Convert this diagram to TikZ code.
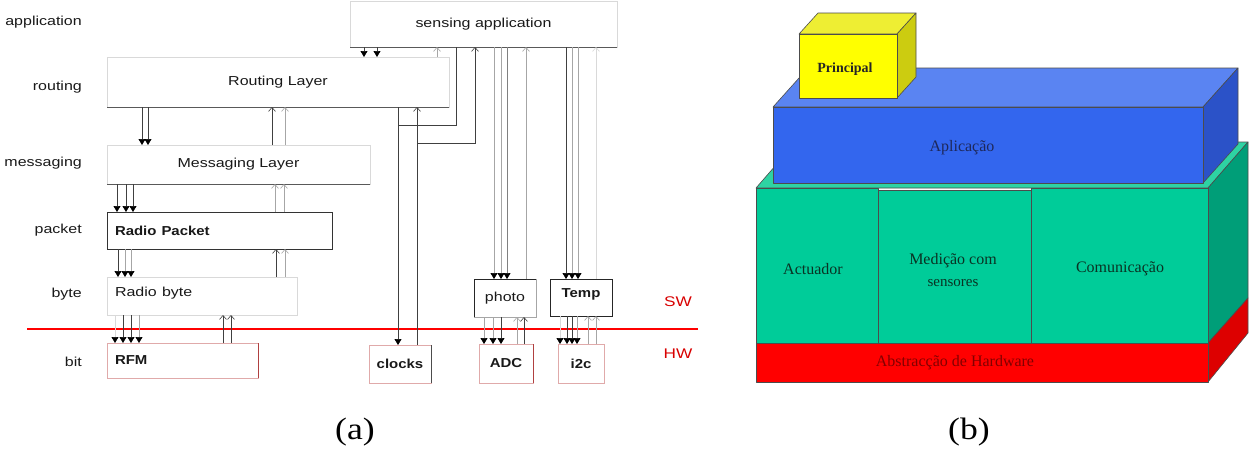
\documentclass[tikz,border=0pt]{standalone}
\usepackage{fontspec}
\setmainfont{Liberation Serif}
\setsansfont{Liberation Sans}
\usetikzlibrary{arrows.meta}
\newcommand{\sx}[1]{\scalebox{1.23}[1]{#1}}
\newcommand{\sxb}[1]{\scalebox{1.15}[1]{\bfseries #1}}
\definecolor{gfront}{HTML}{00CC99}
\definecolor{gtop}{HTML}{2ED3A3}
\definecolor{gside}{HTML}{009E78}
\definecolor{bfront}{HTML}{3366EE}
\definecolor{btop}{HTML}{5A84F2}
\definecolor{bside}{HTML}{2B52C8}
\definecolor{yfront}{HTML}{FFFF00}
\definecolor{ytop}{HTML}{EEEE33}
\definecolor{yside}{HTML}{CCCC10}
\definecolor{rfront}{HTML}{FF0000}
\definecolor{rside}{HTML}{DD0000}
\definecolor{hwpink}{HTML}{E0AAAA}
\definecolor{hwdark}{HTML}{B04040}
\begin{document}
\begin{tikzpicture}[x=1pt,y=-1pt,
  lab/.style={font=\sffamily\fontsize{13}{13}\selectfont, text=black!90, inner sep=0pt},
  lay/.style={draw=black!15, line width=0.6pt, inner sep=0pt, outer sep=0pt,
    font=\sffamily\fontsize{13}{13}\selectfont, text=black!90, anchor=north west},
  layl/.style={lay, align=left, inner xsep=8pt},
  hwbox/.style={lay, draw=hwpink},
  darkedge/.style={draw=black!65, line width=1pt},
  dn/.style={line width=0.7pt, draw=black!75, -{Triangle[width=7pt,length=6pt,color=black]}},
  dng/.style={dn, draw=black!35},
  upo/.style={line width=0.6pt, draw=black!35, -{Straight Barb[width=7pt,length=4pt]}},
  upd/.style={upo, draw=black!75},
  dk/.style={line width=0.8pt, draw=black!75},
  box3d/.style={draw=black!70, line width=0.6pt, line join=round},
  bt/.style={font=\fontsize{16}{18}\selectfont, inner sep=0pt, align=center},
  captxt/.style={font=\fontsize{31}{31}\selectfont, inner sep=0pt},
  hwsw/.style={font=\sffamily\fontsize{14}{14}\selectfont, text=red!85!black, inner sep=0pt}]
\useasboundingbox (0,0) rectangle (1255,448);
\fill[white] (0,0) rectangle (1255,448);

% ---------- (a) layer labels ----------
\node[lab,anchor=east] (Lapp) at (82,22) {\sx{application}};
\node[lab,anchor=east] (Lrou) at (82,87) {\sx{routing}};
\node[lab,anchor=east] (Lmsg) at (82,163) {\sx{messaging}};
\node[lab,anchor=east] (Lpkt) at (82,230) {\sx{packet}};
\node[lab,anchor=east] (Lbyt) at (82,294) {\sx{byte}};
\node[lab,anchor=east] (Lbit) at (82,362) {\sx{bit}};

% ---------- (a) boxes ----------
\node[lay, minimum width=267, minimum height=46] (sa) at (350,1) {\sx{sensing application}};
\node[lay, minimum width=342, minimum height=50] (rl) at (107,57) {\sx{Routing Layer}};
\node[lay, minimum width=263, minimum height=39] (ml) at (107,145) {\sx{Messaging Layer}};
\node[layl, draw=black!80, text width=209, minimum height=37] (rp) at (107,212) {\sxb{Radio Packet}};
\node[layl, text width=174, minimum height=38, text depth=8pt] (rb) at (107,277) {\sx{Radio byte}};
\node[layl, draw=hwpink, text width=135, minimum height=35] (rfm) at (107,343) {\sxb{RFM}};
\node[lay, draw=black!35, minimum width=62, minimum height=38] (ph) at (474,279) {\sx{photo}};
\node[lay, draw=black!85, minimum width=62, minimum height=37, text depth=8pt] (tmp) at (550,279) {\sxb{Temp}};
\node[hwbox, minimum width=62, minimum height=38] (clk) at (369,345) {\sxb{clocks}};
\node[hwbox, minimum width=54, minimum height=39] (adc) at (479,344) {\sxb{ADC}};
\node[hwbox, minimum width=46, minimum height=39] (i2c) at (558,344) {\sxb{i2c}};

% darker edges
\draw[darkedge] (sa.south west) -- (sa.south east);
\draw[darkedge] (rl.south west) -- (rl.south east);
\draw[darkedge] (ml.south west) -- (ml.south east);
\draw[darkedge, draw=black!85] (ph.south west) -- (ph.north west) -- (ph.north east);
\draw[line width=1pt, draw=hwdark] (rfm.north east) -- (rfm.south east);
\draw[line width=0.8pt, draw=black!70] (clk.north east) -- (clk.south east);
\draw[line width=0.8pt, draw=hwdark] (adc.north east) -- (adc.south east);

% SW / HW boundary
\draw[red, line width=1.6pt] (27,329) -- (698,329);
\node[hwsw] (sw) at (678,302) {\sx{SW}};
\node[hwsw] (hw) at (678,354) {\sx{HW}};

% ---------- (a) connectors ----------
\draw[dn] (sa.south -| 364,0) -- (rl.north -| 364,0);
\draw[dn] (sa.south -| 377,0) -- (rl.north -| 377,0);
\draw[upo] (rl.north -| 437,0) -- (sa.south -| 437,0);
\draw[dn] (rl.south -| 142,0) -- (ml.north -| 142,0);
\draw[dn] (rl.south -| 148,0) -- (ml.north -| 148,0);
\draw[upd] (ml.north -| 272,0) -- (rl.south -| 272,0);
\draw[upo] (ml.north -| 285,0) -- (rl.south -| 285,0);
\draw[dn] (ml.south -| 117,0) -- (rp.north -| 117,0);
\draw[dn] (ml.south -| 126,0) -- (rp.north -| 126,0);
\draw[dn] (ml.south -| 133,0) -- (rp.north -| 133,0);
\draw[upo] (rp.north -| 275,0) -- (ml.south -| 275,0);
\draw[upo] (rp.north -| 284,0) -- (ml.south -| 284,0);
\draw[dn] (rp.south -| 118,0) -- (rb.north -| 118,0);
\draw[dng] (rp.south -| 125,0) -- (rb.north -| 125,0);
\draw[dng] (rp.south -| 131,0) -- (rb.north -| 131,0);
\draw[upd] (rb.north -| 276,0) -- (rp.south -| 276,0);
\draw[upo] (rb.north -| 285,0) -- (rp.south -| 285,0);
\draw[dng, draw=black!15] (rb.south -| 115,0) -- (rfm.north -| 115,0);
\draw[dn] (rb.south -| 123,0) -- (rfm.north -| 123,0);
\draw[dn] (rb.south -| 131,0) -- (rfm.north -| 131,0);
\draw[dng] (rb.south -| 139,0) -- (rfm.north -| 139,0);
\draw[upd] (rfm.north -| 223,0) -- (rb.south -| 223,0);
\draw[upd] (rfm.north -| 231,0) -- (rb.south -| 231,0);
\coordinate (j1) at (398,125);
\coordinate (j2) at (417,143);
\draw[dk] (sa.south -| 456,0) |- (j1);
\draw[dn] (rl.south -| 398,0) -- (clk.north -| 398,0);
\draw[upd] (clk.north -| 417,0) -- (rl.south -| 417,0);
\draw[upd] (j2) -| (sa.south -| 475,0);
\draw[dng] (sa.south -| 494,0) -- (ph.north -| 494,0);
\draw[dng] (sa.south -| 501,0) -- (ph.north -| 501,0);
\draw[dng, draw=black!50] (sa.south -| 507,0) -- (ph.north -| 507,0);
\draw[upo] (ph.north -| 526,0) -- (sa.south -| 526,0);
\draw[dn] (sa.south -| 566,0) -- (tmp.north -| 566,0);
\draw[dng] (sa.south -| 572,0) -- (tmp.north -| 572,0);
\draw[dng] (sa.south -| 578,0) -- (tmp.north -| 578,0);
\draw[upo, draw=black!15] (tmp.north -| 596,0) -- (sa.south -| 596,0);
\draw[dng] (ph.south -| 484,0) -- (adc.north -| 484,0);
\draw[dng] (ph.south -| 493,0) -- (adc.north -| 493,0);
\draw[dn] (ph.south -| 501,0) -- (adc.north -| 501,0);
\draw[upo] (adc.north -| 517,0) -- (ph.south -| 517,0);
\draw[upd] (adc.north -| 524,0) -- (ph.south -| 524,0);
\draw[dng, draw=black!15] (tmp.south -| 560,0) -- (i2c.north -| 560,0);
\draw[dn] (tmp.south -| 567,0) -- (i2c.north -| 567,0);
\draw[dn] (tmp.south -| 572,0) -- (i2c.north -| 572,0);
\draw[dng] (tmp.south -| 577,0) -- (i2c.north -| 577,0);
\draw[upo] (i2c.north -| 588,0) -- (tmp.south -| 588,0);
\draw[upo] (i2c.north -| 596,0) -- (tmp.south -| 596,0);

% ---------- (b) stacked blocks ----------
\filldraw[box3d, fill=gtop] (756,188) -- (796,142) -- (1248,142) -- (1208,188) -- cycle;
\filldraw[box3d, fill=gside] (1208,188) -- (1248,142) -- (1248,298) -- (1208,343) -- cycle;
\filldraw[box3d, fill=rside] (1208,343) -- (1248,298) -- (1248,333) -- (1208,382) -- cycle;
\filldraw[box3d, fill=rfront] (756,343) rectangle (1208,382);
\filldraw[box3d, fill=gfront] (756,188) rectangle (878,343);
\filldraw[box3d, fill=gfront] (878,190) rectangle (1031,343);
\filldraw[box3d, fill=gfront] (1031,188) rectangle (1208,343);
\filldraw[box3d, fill=btop] (773,107) -- (808,68) -- (1238,68) -- (1203,107) -- cycle;
\filldraw[box3d, fill=bside] (1203,107) -- (1238,68) -- (1238,144) -- (1203,183) -- cycle;
\filldraw[box3d, fill=bfront] (773,107) rectangle (1203,183);
\filldraw[box3d, fill=ytop] (799,34) -- (818,13) -- (916,13) -- (897,34) -- cycle;
\filldraw[box3d, fill=yside] (897,34) -- (916,13) -- (916,77) -- (897,98) -- cycle;
\filldraw[box3d, fill=yfront] (799,34) rectangle (897,98);

\node[bt, font=\bfseries\fontsize{14}{16}\selectfont, text=black!85] (tpr) at (845,69) {Principal};
\node[bt, text={rgb,255:red,30;green,40;blue,90}] (tap) at (962,148) {Aplicação};
\node[bt, text={rgb,255:red,10;green,50;blue,35}] (tac) at (813,269) {Actuador};
\node[bt, text={rgb,255:red,10;green,50;blue,35}] (tme) at (953,270) {Medição com\\[4pt]{\fontsize{15}{15}\selectfont sensores}};
\node[bt, text={rgb,255:red,10;green,50;blue,35}] (tco) at (1120,269) {Comunicação};
\node[bt, text={rgb,255:red,130;green,0;blue,0}] (tab) at (955,363) {Abstracção de Hardware};

% captions
\node[captxt] (ca) at (355,432) {\scalebox{1.15}[1]{(a)}};
\node[captxt] (cb) at (969,432) {\scalebox{1.15}[1]{(b)}};
\end{tikzpicture}
\end{document}
